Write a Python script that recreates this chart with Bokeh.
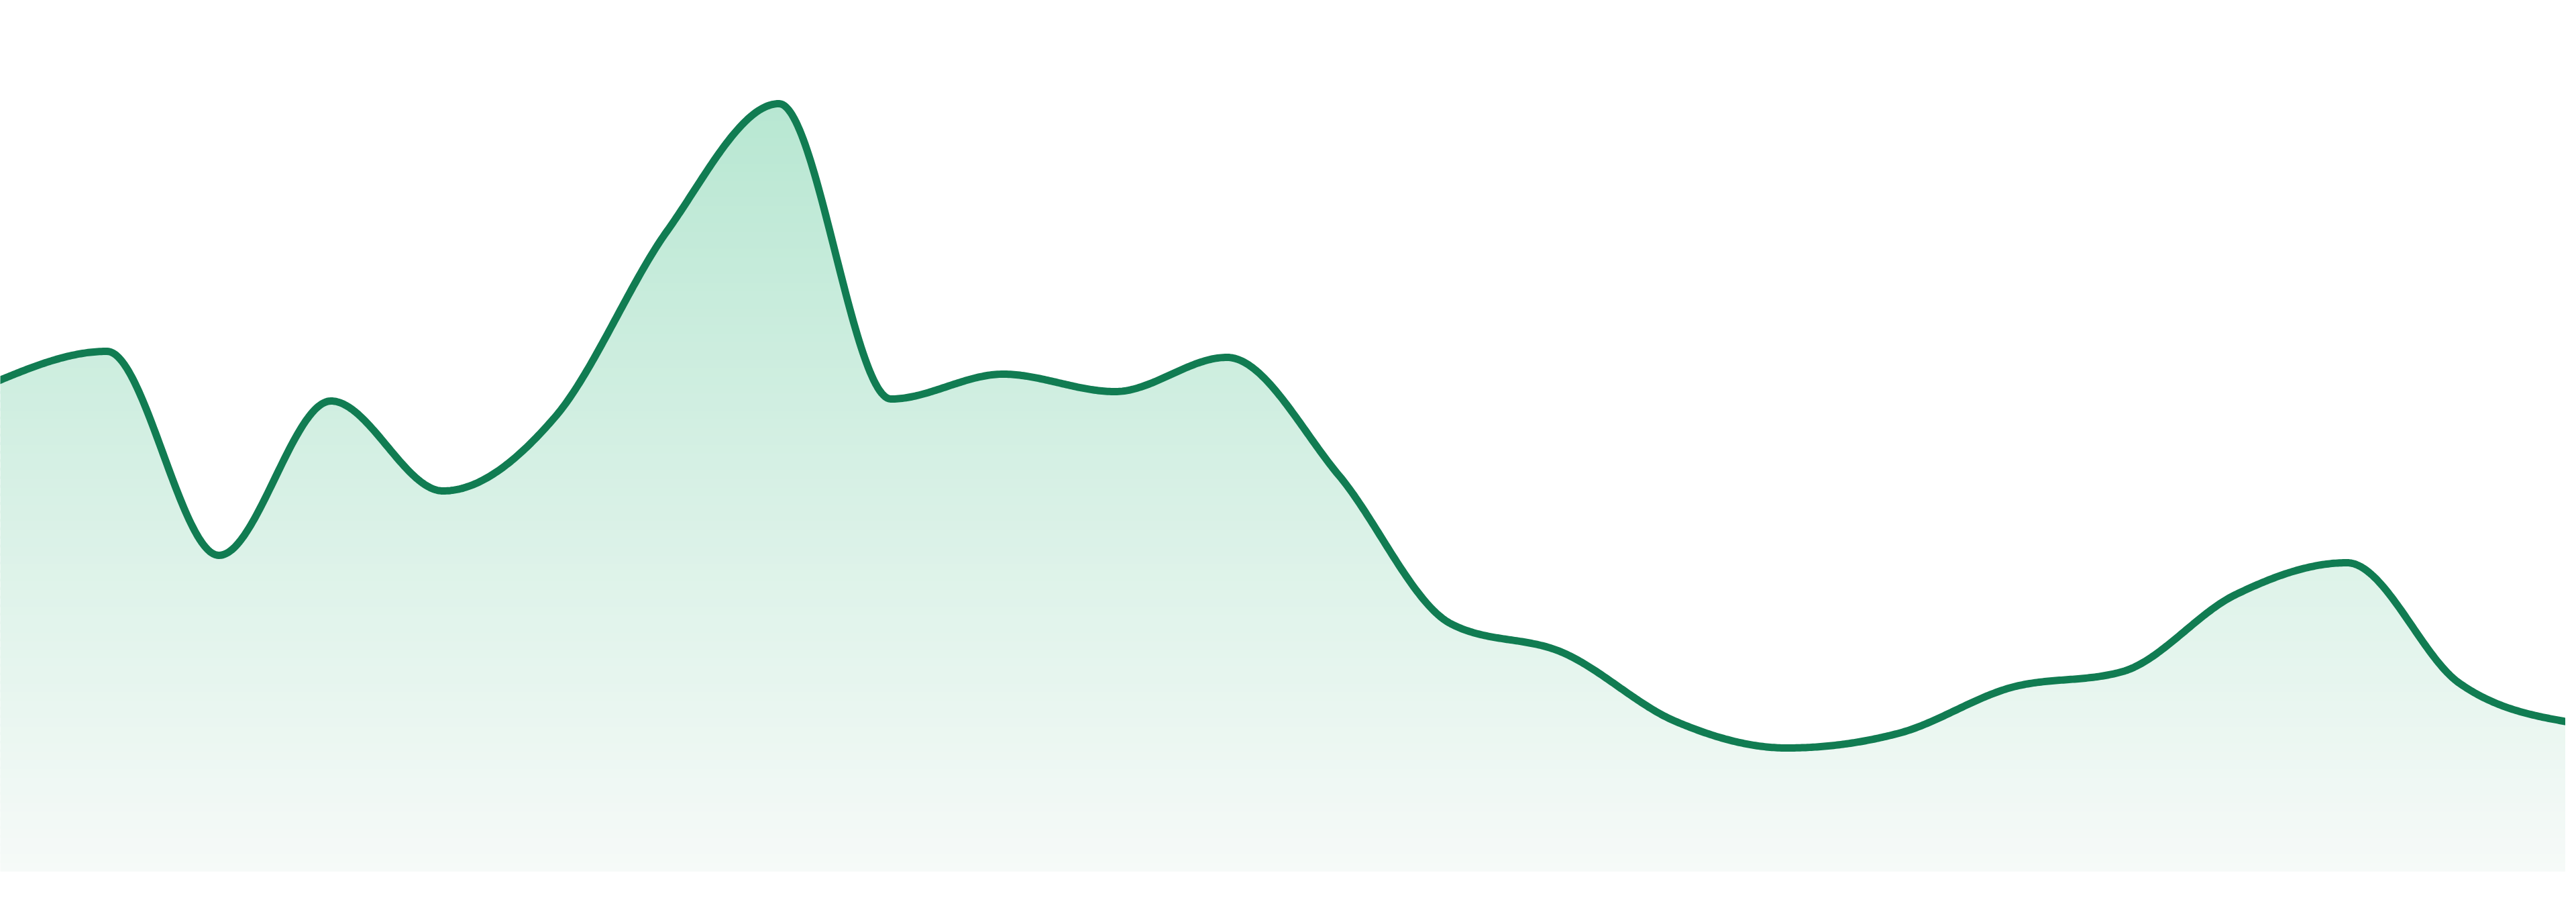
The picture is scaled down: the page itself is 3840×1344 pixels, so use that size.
import numpy as np
from bokeh.plotting import figure
from bokeh.embed import file_html
from bokeh.resources import INLINE

# ---- data ----
index = list(range(24))
values = [72.9, 77.5, 47.1, 70.1, 56.7, 67.7, 95.4, 114.4, 70.4, 74.1, 71.5, 76.6,
          59.0, 36.9, 32.6, 22.4, 18.4, 20.6, 27.4, 29.8, 41.2, 46.0, 28.1, 22.2]

LINE_COLOR = "#117c52"
TOP_RGB = (184, 231, 210)
BOTTOM_RGB = (246, 250, 248)


def monotone_x(x, y, per_seg=60):
    """d3.curveMonotoneX style rendering of the series."""
    x = np.asarray(x, float)
    y = np.asarray(y, float)
    n = len(x)
    h = np.diff(x)
    s = np.diff(y) / h
    t = np.zeros(n)
    for i in range(1, n - 1):
        s0, s1 = s[i - 1], s[i]
        p = (s0 * h[i] + s1 * h[i - 1]) / (h[i - 1] + h[i])
        t[i] = (np.sign(s0) + np.sign(s1)) * min(abs(s0), abs(s1), 0.5 * abs(p))
    t[0] = (3 * s[0] - t[1]) / 2
    t[-1] = (3 * s[-1] - t[-2]) / 2
    xs, ys = [], []
    for i in range(n - 1):
        dx = h[i] / 3
        p0 = (x[i], y[i])
        p1 = (x[i] + dx, y[i] + dx * t[i])
        p2 = (x[i + 1] - dx, y[i + 1] - dx * t[i + 1])
        p3 = (x[i + 1], y[i + 1])
        u = np.linspace(0, 1, per_seg, endpoint=(i == n - 2))
        a = (1 - u) ** 3
        b = 3 * (1 - u) ** 2 * u
        c = 3 * (1 - u) * u ** 2
        d = u ** 3
        xs.append(a * p0[0] + b * p1[0] + c * p2[0] + d * p3[0])
        ys.append(a * p0[1] + b * p1[1] + c * p2[1] + d * p3[1])
    return np.concatenate(xs), np.concatenate(ys)


cx, cy = monotone_x(index, values)

W, H = 3824, 1328
p = figure(width=W, height=H, output_backend="svg", toolbar_location=None,
           x_axis_type=None, y_axis_type=None,
           x_range=(0.0479, 22.952), y_range=(-3.0, 129.8),
           min_border=0, outline_line_color=None, background_fill_color="white",
           border_fill_color="white")
p.grid.visible = False

# gradient area (stacked horizontal bands)
top = float(cy.max())
nb = 90
levels = np.linspace(0, top, nb + 1)
for k in range(nb):
    a, b = levels[k], levels[k + 1]
    tfrac = 1 - (a + b) / 2 / top
    col = tuple(int(round(TOP_RGB[j] + tfrac * (BOTTOM_RGB[j] - TOP_RGB[j]))) for j in range(3))
    hexc = "#%02x%02x%02x" % col
    p.varea(x=cx, y1=np.minimum(cy, a), y2=np.minimum(cy, b + 0.4),
            fill_color=hexc, fill_alpha=1.0)

p.line(cx, cy, line_color=LINE_COLOR, line_width=11, line_join="round", line_cap="round")

open("out.html", "w").write(file_html(p, INLINE))
